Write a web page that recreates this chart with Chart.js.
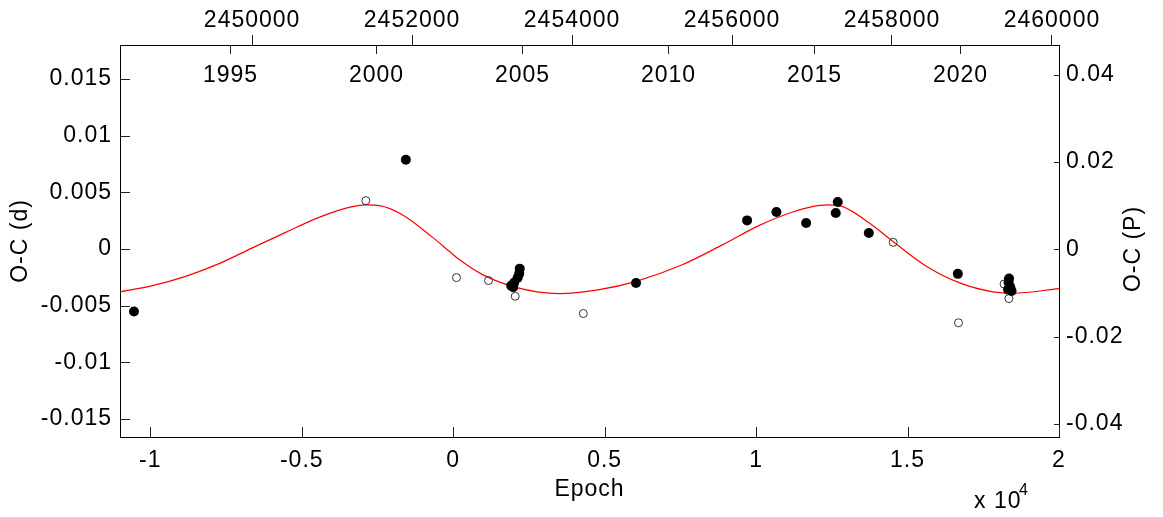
<!DOCTYPE html>
<html><head><meta charset="utf-8">
<script src="https://cdn.jsdelivr.net/npm/chart.js@4.4.0/dist/chart.umd.min.js"></script>
<style>html,body{margin:0;padding:0;background:#fff;}canvas{display:block;}</style>
</head><body>
<canvas id="c" width="1163" height="517"></canvas>
<script>
// ---- data ----
const fitEpoch = [-11000, -9930, -8830, -7730, -6630, -5530, -4430, -3330, -2880, -2440, -1680, -680, -130, 200, 970, 2070, 3500, 4820, 6040, 7580, 8900, 10110, 11210, 12090, 12400, 12860, 13740, 14510, 15620, 16720, 17820, 18480, 20000];
const fitOC    = [-0.00379, -0.00324, -0.00242, -0.00130, 0.00009, 0.00146, 0.00279, 0.00373, 0.00388, 0.00382, 0.00302, 0.00102, -0.00021, -0.00094, -0.00227, -0.00339, -0.00394, -0.00359, -0.00286, -0.00138, 0.00038, 0.00208, 0.00326, 0.00384, 0.00388, 0.00373, 0.00229, 0.00067, -0.00153, -0.00300, -0.00379, -0.00391, -0.00350];

const priEpoch = [-10539, -1563, 1916, 1982, 2015, 2131, 2180, 2197, 6036, 9703, 10671, 11652, 12630, 12696, 13722, 16660, 18318, 18335, 18351, 18384, 18401, 18434];
const priOC    = [-0.00553, 0.00787, -0.00324, -0.00337, -0.00297, -0.00253, -0.00218, -0.00174, -0.00300, 0.00252, 0.00326, 0.00229, 0.00317, 0.00414, 0.00141, -0.00220, -0.00359, -0.00297, -0.00262, -0.00332, -0.00350, -0.00372];

const secEpoch = [-2884, 109, 1166, 2048, 4295, 14526, 16683, 18186, 18346];
const secOC    = [0.00426, -0.00253, -0.00279, -0.00418, -0.00570, 0.00058, -0.00652, -0.00310, -0.00438];

const epochTicks = [-10000, -5000, 0, 5000, 10000, 15000, 20000];
const jdTicks = [2450000, 2452000, 2454000, 2456000, 2458000, 2460000];
const yearTicks = [1995, 2000, 2005, 2010, 2015, 2020];
const JD_2000 = 2451544.5;
const DAYS_PER_YEAR = 365.25;

const FONT = '"Liberation Sans", Arial, sans-serif';
const FS = 23;

const toPts = (xs, ys) => xs.map((x, i) => ({x, y: ys[i]}));
const fmt = v => { const s = String(+(+v).toFixed(5)); return s === '-0' ? '0' : s; };

const decor = {
  id: 'decor',
  beforeDraw(chart) { chart.ctx.letterSpacing = '1px'; },
  afterDraw(chart) {
    const {ctx, chartArea: a, scales} = chart;
    ctx.save();
    ctx.letterSpacing = '1px';
    ctx.strokeStyle = '#222';
    ctx.lineWidth = 1;
    ctx.beginPath();
    scales.x.ticks.forEach(t => {
      const px = Math.round(scales.x.getPixelForValue(t.value)) + 0.5;
      ctx.moveTo(px, a.bottom); ctx.lineTo(px, a.bottom - 10);
    });
    scales.y.ticks.forEach(t => {
      const py = Math.round(scales.y.getPixelForValue(t.value)) + 0.5;
      ctx.moveTo(a.left, py); ctx.lineTo(a.left + 10, py);
    });
    scales.y2.ticks.forEach(t => {
      const py = Math.round(scales.y2.getPixelForValue(t.value)) + 0.5;
      ctx.moveTo(a.right, py); ctx.lineTo(a.right - 5, py);
    });
    const yearPx = yearTicks.map(yr => Math.round(scales.jd.getPixelForValue(JD_2000 + (yr - 2000) * DAYS_PER_YEAR)) + 0.5);
    yearPx.forEach(px => { ctx.moveTo(px, a.top); ctx.lineTo(px, a.top + 9); });
    ctx.stroke();

    ctx.fillStyle = '#000';
    ctx.font = FS + 'px ' + FONT;
    ctx.textAlign = 'center';
    ctx.textBaseline = 'middle';
    yearTicks.forEach((yr, i) => ctx.fillText(String(yr), yearPx[i], 76));

    // x 10^4 multiplier
    ctx.textAlign = 'left';
    ctx.fillText('x 10', 974, 502);
    ctx.font = '16px ' + FONT;
    ctx.fillText('4', 1019, 491);

    // right axis title
    ctx.font = FS + 'px ' + FONT;
    ctx.translate(1134, 249);
    ctx.rotate(-Math.PI / 2);
    ctx.textAlign = 'center';
    ctx.fillText('O-C (P)', 0, 0);
    ctx.restore();
  }
};

Chart.defaults.font.family = FONT;
Chart.defaults.font.size = FS;
Chart.defaults.color = '#000';

new Chart(document.getElementById('c'), {
  type: 'scatter',
  data: {
    datasets: [
      {
        label: 'primary',
        data: toPts(priEpoch, priOC),
        xAxisID: 'x', yAxisID: 'y',
        pointRadius: 5, pointBackgroundColor: '#000', pointBorderColor: '#000', pointBorderWidth: 0,
        pointHoverRadius: 5
      },
      {
        label: 'secondary',
        data: toPts(secEpoch, secOC),
        xAxisID: 'x', yAxisID: 'y',
        pointRadius: 4, pointBackgroundColor: 'rgba(255,255,255,0)', pointBorderColor: '#333', pointBorderWidth: 1,
        pointHoverRadius: 4
      },
      {
        type: 'line',
        label: 'fit',
        data: toPts(fitEpoch, fitOC),
        xAxisID: 'x', yAxisID: 'y',
        borderColor: '#ff0000', borderWidth: 1.2,
        pointRadius: 0, fill: false,
        cubicInterpolationMode: 'monotone'
      }
    ]
  },
  options: {
    responsive: false,
    animation: false,
    devicePixelRatio: 1,
    events: [],
    layout: { padding: 0 },
    plugins: { legend: { display: false }, tooltip: { enabled: false } },
    scales: {
      x: {
        type: 'linear', position: 'bottom',
        min: -11000, max: 20000,
        afterFit: s => { s.height = 80; },
        afterBuildTicks: s => { s.ticks = epochTicks.map(v => ({value: v})); },
        grid: { display: false, drawTicks: false },
        border: { display: true, color: '#000', width: 1 },
        ticks: { padding: 10, maxRotation: 0, autoSkip: false,
                 callback: v => fmt(v / 10000) },
        title: { display: true, text: 'Epoch', padding: { top: 0, bottom: 14 } }
      },
      jd: {
        type: 'linear', position: 'top',
        min: 2448348, max: 2460088,
        afterFit: s => { s.height = 45; },
        afterBuildTicks: s => { s.ticks = jdTicks.map(v => ({value: v})); },
        grid: { display: true, drawOnChartArea: false, drawTicks: true, tickLength: 10, color: '#222', tickColor: '#222' },
        border: { display: true, color: '#000', width: 1 },
        ticks: { padding: 1, maxRotation: 0, autoSkip: false,
                 callback: v => String(v) }
      },
      y: {
        type: 'linear', position: 'left',
        min: -0.0166, max: 0.0180,
        afterFit: s => { s.width = 120; },
        grid: { display: false, drawTicks: false },
        border: { display: true, color: '#000', width: 1 },
        ticks: { stepSize: 0.005, includeBounds: false, padding: 8, autoSkip: false, callback: v => fmt(v) },
        title: { display: true, text: 'O-C (d)', padding: { top: 7, bottom: 0 } }
      },
      y2: {
        type: 'linear', position: 'right',
        min: -0.0430, max: 0.0468,
        afterFit: s => { s.width = 104; },
        grid: { display: false, drawTicks: false },
        border: { display: true, color: '#000', width: 1 },
        ticks: { stepSize: 0.02, includeBounds: false, padding: 7, autoSkip: false, callback: v => fmt(v) }
      }
    }
  },
  plugins: [decor]
});
</script>
</body></html>
